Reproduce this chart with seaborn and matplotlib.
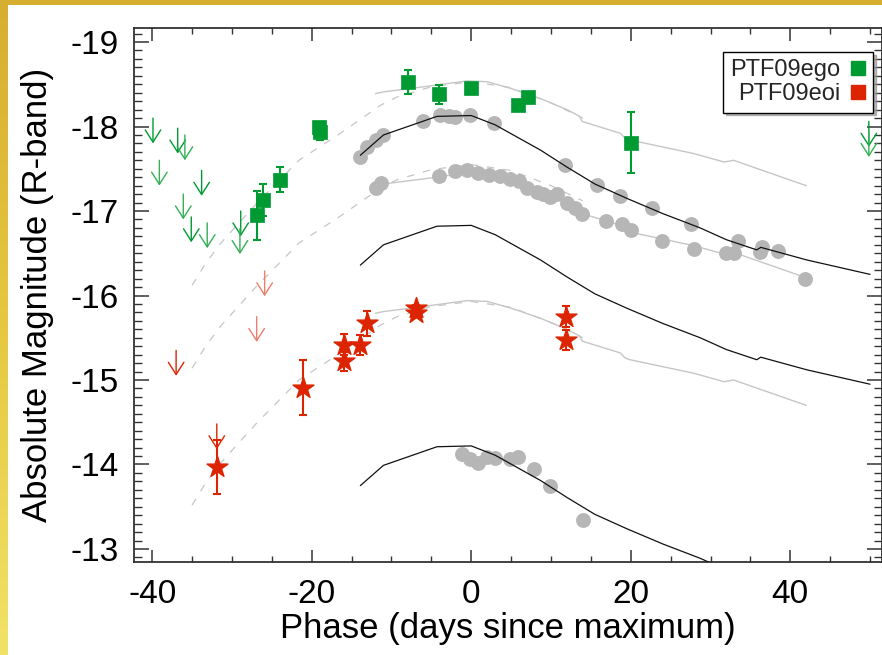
import numpy as np
import seaborn as sns
import matplotlib.pyplot as plt
from matplotlib.lines import Line2D
from matplotlib.patches import Rectangle
from matplotlib.ticker import MultipleLocator

# PTF09ego detections (green squares)
ego_phase = [-26.9, -26.1, -24.0, -19.1, -18.9, -7.9, -4.0, 0.0, 5.9, 7.1, 20.0]
ego_mag = [-16.95, -17.13, -17.37, -18.00, -17.93, -18.53, -18.38, -18.45, -18.25, -18.35, -17.81]
ego_err = [0.29, 0.19, 0.15, 0.04, 0.09, 0.14, 0.11, 0.05, 0.05, 0.05, 0.36]
# PTF09ego upper limits
ego_lim_phase = [-39.9, -39.1, -36.8, -35.9, -33.8, -36.1, -35.1, -33.1, -28.9, -29.0, 49.85, 49.85]
ego_lim_mag = [-17.80, -17.30, -17.68, -17.60, -17.18, -16.90, -16.63, -16.56, -16.70, -16.49, -17.76, -17.64]

# PTF09eoi detections (red stars)
eoi_phase = [-31.9, -21.1, -16.0, -15.9, -13.9, -13.1, -6.9, -6.9, 11.9, 11.9]
eoi_mag = [-13.97, -14.91, -15.22, -15.42, -15.41, -15.67, -15.85, -15.79, -15.75, -15.47]
eoi_err = [0.32, 0.33, 0.11, 0.12, 0.12, 0.15, 0.04, 0.04, 0.12, 0.12]
# PTF09eoi upper limits
eoi_lim_phase = [-37.0, -31.9, -25.9, -26.9]
eoi_lim_mag = [-15.05, -14.18, -15.99, -15.45]
eoi_lim_faint = [False, False, True, True]

# comparison light curves (gray dots)
cmp1_phase = [-13.9, -13.1, -12.0, -11.0, -6.0, -3.9, -2.8, -2.0, -0.1, 2.8, 11.8, 15.8,
              18.7, 22.7, 27.6, 33.5, 36.2, 36.5, 38.4]
cmp1_mag = [-17.64, -17.76, -17.84, -17.90, -18.06, -18.14, -18.12, -18.11, -18.14, -18.04, -17.54,
            -17.31, -17.18, -17.03, -16.85, -16.64, -16.52, -16.58, -16.53]
cmp2_phase = [-12.0, -11.3, -4.1, -2.0, -0.5, 0.8, 2.2, 3.6, 4.8, 6.0, 7.0, 8.2, 9.0, 9.9, 10.8,
              12.0, 13.0, 13.9, 16.9, 18.9, 20.0, 23.9, 27.9, 31.9, 32.9, 41.9]
cmp2_mag = [-17.27, -17.33, -17.42, -17.47, -17.48, -17.45, -17.43, -17.41, -17.38, -17.35, -17.27,
            -17.23, -17.20, -17.16, -17.20, -17.09, -17.04, -16.96, -16.88, -16.85, -16.77, -16.64,
            -16.55, -16.50, -16.50, -16.20]
cmp3_phase = [-1.2, -0.1, 0.9, 2.0, 3.0, 4.9, 5.9, 7.9, 9.9, 14.0]
cmp3_mag = [-14.13, -14.07, -14.02, -14.09, -14.08, -14.06, -14.09, -13.95, -13.74, -13.34]

# black template curves
blk_phase = [-13.9, -11.0, -4.3, 0.0, 3.0, 8.7, 12.0, 15.5, 19.5, 24.0, 28.7, 32.0, 35.8, 36.3, 42.1, 50.0]
blk_top = [-17.66, -17.90, -18.12, -18.13, -18.02, -17.72, -17.52, -17.32, -17.15, -16.97, -16.80,
           -16.66, -16.54, -16.57, -16.42, -16.25]
blk_mid = [-16.36, -16.60, -16.82, -16.83, -16.72, -16.42, -16.22, -16.02, -15.85, -15.67, -15.50,
           -15.36, -15.24, -15.27, -15.12, -14.95]
blk_low = [-13.75, -13.99, -14.21, -14.22, -14.11, -13.81, -13.61, -13.41, -13.24, -13.06, -12.89,
           -12.75, -12.63, -12.66, -12.51, -12.34]

# light gray template curves (solid part)
gry_phase = [-12.0, -11.0, -6.0, -0.5, 2.0, 5.0, 8.7, 12.0, 13.6, 13.9, 18.7, 19.3, 19.9, 27.9, 31.7, 32.9, 42.0]
gry_top = [-18.39, -18.41, -18.47, -18.54, -18.53, -18.45, -18.33, -18.20, -18.12, -18.06, -17.92,
           -17.86, -17.84, -17.68, -17.58, -17.60, -17.30]
gry_mid = [-17.30, -17.32, -17.38, -17.45, -17.44, -17.36, -17.24, -17.11, -17.03, -16.97, -16.83,
           -16.77, -16.75, -16.59, -16.49, -16.51, -16.21]
gry_low = [-15.79, -15.81, -15.87, -15.94, -15.93, -15.85, -15.73, -15.60, -15.52, -15.46, -15.32,
           -15.26, -15.24, -15.08, -14.98, -15.00, -14.70]

# dashed model curves
dsh_phase = [-35.0, -33.3, -31.4, -27.0, -21.6, -16.4, -11.4, -9.3, -5.0, 0.0, 5.0, 10.0, 14.0]
dsh_top = [-16.12, -16.38, -16.62, -17.08, -17.60, -17.92, -18.25, -18.35, -18.47, -18.53, -18.46, -18.28, -18.10]
dsh_mid = [-15.14, -15.40, -15.64, -16.10, -16.62, -16.94, -17.27, -17.37, -17.49, -17.55, -17.48, -17.30, -17.12]
dsh_low = [-13.52, -13.78, -14.02, -14.48, -15.00, -15.32, -15.65, -15.75, -15.87, -15.93, -15.86, -15.68, -15.50]

GREEN = '#009a33'
GREEN_LT = '#33b055'
RED = '#dc2500'
SALMON = '#ec7f6c'
DOT = '#b6b6b6'
LGRAY = '#c6c6c6'

sns.set_theme(style='white')
plt.rcParams['font.family'] = ['Liberation Sans', 'DejaVu Sans']
plt.rcParams['axes.unicode_minus'] = False

fig = plt.figure(figsize=(8.82, 6.55), dpi=100)

# gold frame background
bg = fig.add_axes([0, 0, 1, 1], zorder=-10)
grad = np.linspace(0, 1, 256).reshape(-1, 1)
bg.imshow(grad, cmap=sns.blend_palette(['#d6ae30', '#e6c840', '#f1e266'], as_cmap=True),
          aspect='auto', extent=[0, 1, 0, 1])
bg.set_axis_off()
fig.add_artist(Rectangle((8 / 882, 0), 1, 650 / 655, transform=fig.transFigure,
                         facecolor='white', edgecolor='none', zorder=-5))

ax = fig.add_axes([134 / 882, 93 / 655, 748 / 882, 534 / 655])
ax.set_facecolor('white')

# dashed models
for m in (dsh_top, dsh_mid, dsh_low):
    sns.lineplot(x=dsh_phase, y=m, ax=ax, color=LGRAY, lw=0.9, linestyle=(0, (6, 7)),
                 sort=False, estimator=None, zorder=1.5)
# solid gray templates
for m in (gry_top, gry_mid, gry_low):
    sns.lineplot(x=gry_phase, y=m, ax=ax, color=LGRAY, lw=1.0, sort=False, estimator=None, zorder=1.6)

# comparison dots
for px_, m in ((cmp1_phase, cmp1_mag), (cmp2_phase, cmp2_mag), (cmp3_phase, cmp3_mag)):
    sns.scatterplot(x=px_, y=m, ax=ax, color=DOT, s=115, linewidth=0, zorder=2)

# black templates
for m in (blk_top, blk_mid, blk_low):
    sns.lineplot(x=blk_phase, y=m, ax=ax, color='#111111', lw=0.9, sort=False, estimator=None, zorder=3)

# upper limit arrows
def down_arrow(x, m, color):
    ax.annotate('', xy=(x, m), xytext=(x, m - 0.30),
                arrowprops=dict(arrowstyle='->,head_length=0.55,head_width=0.35', color=color,
                                lw=1.0, shrinkA=0, shrinkB=0, mutation_scale=16), zorder=4)

for i, (x, m) in enumerate(zip(ego_lim_phase, ego_lim_mag)):
    down_arrow(x, m, GREEN if i % 2 == 0 else GREEN_LT)
for x, m, faint in zip(eoi_lim_phase, eoi_lim_mag, eoi_lim_faint):
    down_arrow(x, m, SALMON if faint else RED)

# detections with error bars
ax.errorbar(ego_phase, ego_mag, yerr=ego_err, fmt='none', ecolor=GREEN, elinewidth=1.5,
            capsize=3, capthick=1.5, zorder=5)
sns.scatterplot(x=ego_phase, y=ego_mag, ax=ax, marker='s', color=GREEN, s=100, linewidth=0.5,
                edgecolor=GREEN, zorder=6)
ax.errorbar(eoi_phase, eoi_mag, yerr=eoi_err, fmt='none', ecolor=RED, elinewidth=1.5,
            capsize=3, capthick=1.5, zorder=5)
sns.scatterplot(x=eoi_phase, y=eoi_mag, ax=ax, marker='*', color=RED, s=250, linewidth=1.0,
                edgecolor=RED, zorder=6)

ax.set_xlim(-42.28, 51.5)
ax.set_ylim(-12.846, -19.166)

ax.xaxis.set_major_locator(MultipleLocator(20))
ax.xaxis.set_minor_locator(MultipleLocator(5))
ax.yaxis.set_major_locator(MultipleLocator(1))
ax.yaxis.set_minor_locator(MultipleLocator(0.1))
ax.tick_params(which='both', direction='in', top=True, right=True, bottom=True, left=True,
               color='#333333', labelsize=24, labelcolor='black')
ax.tick_params(axis='x', which='major', length=9, width=1.1, pad=12)
ax.tick_params(axis='x', which='minor', length=4.5, width=1.0)
ax.tick_params(axis='y', which='major', length=11, width=1.1, pad=11)
ax.tick_params(axis='y', which='minor', length=5.5, width=1.0)
for sp in ax.spines.values():
    sp.set_color('#333333')
    sp.set_linewidth(1.3)

ax.set_xlabel('Phase (days since maximum)', fontsize=25, color='black', labelpad=2)
ax.set_ylabel('Absolute Magnitude (R-band)', fontsize=25, color='black', labelpad=12)

handles = [Line2D([], [], marker='s', ls='none', color=GREEN, markersize=9.5),
           Line2D([], [], marker='s', ls='none', color=RED, markersize=9.5)]
leg = ax.legend(handles, ['PTF09ego', 'PTF09eoi'], loc='upper right', bbox_to_anchor=(0.988, 0.955),
                markerfirst=False, frameon=True, fancybox=False, edgecolor='black', framealpha=1,
                fontsize=17, handlelength=0.7, handletextpad=0.4, labelspacing=0.1,
                borderpad=0.3, borderaxespad=0, shadow={'color': '#999999', 'alpha': 0.7})
leg.get_frame().set_linewidth(1.0)

fig.savefig('out.png', dpi=100)
